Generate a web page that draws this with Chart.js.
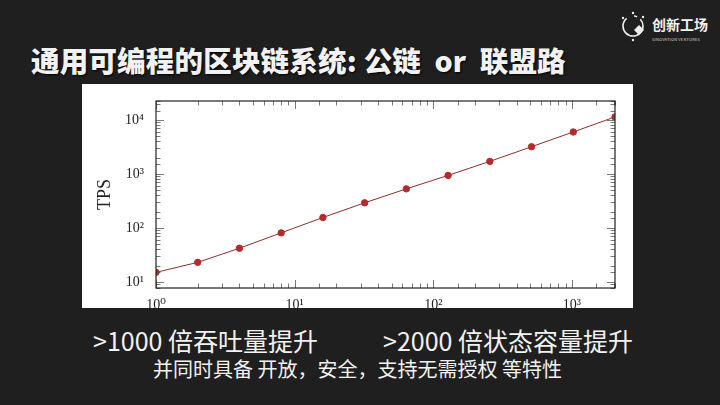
<!DOCTYPE html>
<html>
<head>
<meta charset="utf-8">
<script src="https://cdn.jsdelivr.net/npm/chart.js@4"></script>
<style>
  html, body { margin: 0; padding: 0; }
  body { width: 720px; height: 405px; background: #1f1f1f; position: relative; overflow: hidden;
         font-family: "Noto Sans CJK SC", "Noto Sans", sans-serif; color: #f2f2f2; }
  .title { position: absolute; left: 31px; top: 39px; font-size: 28.5px; font-weight: 900; white-space: pre;
           text-shadow: 1px 1px 2px #000; letter-spacing: 0.2px; }
  .panel { position: absolute; left: 82px; top: 84px; width: 551px; height: 224px; background: #fff; }
  .line1 { position: absolute; top: 322px; font-size: 25px; white-space: pre; }
  .line2 { position: absolute; left: 153px; top: 354px; font-size: 20px; white-space: pre; }
  .logo { position: absolute; left: 620px; top: 10px; width: 90px; height: 36px; }
  .logo .cn { position: absolute; left: 32px; top: 4px; font-size: 14px; font-weight: 700; }
  .logo .en { position: absolute; left: 32px; top: 26px; font-size: 4px; letter-spacing: 0.2px; color: #ddd; white-space: nowrap; }
</style>
</head>
<body>
<div class="title">通用可编程的区块链系统: 公链  or  联盟路</div>
<div class="logo">
  <svg width="30" height="34" viewBox="0 0 30 34">
    <circle cx="13" cy="16" r="10" fill="none" stroke="#eee" stroke-width="1.6" stroke-dasharray="40 8 3 4"/>
    <circle cx="3" cy="8" r="1.2" fill="#eee"/>
    <circle cx="13" cy="3" r="1.2" fill="#eee"/>
    <circle cx="23" cy="7" r="1.2" fill="#eee"/>
    <path d="M14 20 l5 -5 l5 5 l-5 5 z" fill="#eee"/>
    <circle cx="13" cy="30" r="1.2" fill="#eee"/>
  </svg>
  <div class="cn">创新工场</div>
  <div class="en">SINOVATION VENTURES</div>
</div>
<div class="panel"><canvas id="tps-chart" width="551" height="224"></canvas></div>
<div class="line1" style="left:93px">&gt;1000 倍吞吐量提升</div>
<div class="line1" style="left:383px">&gt;2000 倍状态容量提升</div>
<div class="line2">并同时具备 开放，安全，支持无需授权 等特性</div>

<script>
// data
const nodes = [1, 2, 4, 8, 16, 32, 64, 128, 256, 512, 1024, 2048];
const tps = [15, 23, 42, 81, 156, 292, 530, 940, 1710, 3200, 6000, 11400];
const sup = { 0: '⁰', 1: '¹', 2: '²', 3: '³', 4: '⁴' };

const isDecade = v => Math.abs(Math.log10(v) - Math.round(Math.log10(v))) < 1e-9;
const powLabel = v => isDecade(v) ? '10' + sup[Math.round(Math.log10(v))] : '';

// pgfplots style: box around the plot and ticks pointing inward on all sides
const boxTicks = {
  id: 'boxTicks',
  afterDraw(chart) {
    const { ctx, chartArea: a, scales } = chart;
    ctx.save();
    ctx.strokeStyle = '#555';
    ctx.lineWidth = 0.8;
    ctx.beginPath();
    scales.x.ticks.forEach(t => {
      if (t.value < scales.x.min || t.value > scales.x.max) return;
      const px = Math.round(scales.x.getPixelForValue(t.value)) + 0.5;
      const len = isDecade(t.value) ? 8 : 4.5;
      ctx.moveTo(px, a.bottom); ctx.lineTo(px, a.bottom - len);
      ctx.moveTo(px, a.top); ctx.lineTo(px, a.top + len);
    });
    scales.y.ticks.forEach(t => {
      if (t.value < scales.y.min || t.value > scales.y.max) return;
      const py = Math.round(scales.y.getPixelForValue(t.value)) + 0.5;
      const len = isDecade(t.value) ? 8 : 4.5;
      ctx.moveTo(a.left, py); ctx.lineTo(a.left + len, py);
      ctx.moveTo(a.right, py); ctx.lineTo(a.right - len, py);
    });
    ctx.stroke();
    ctx.strokeStyle = '#222';
    ctx.lineWidth = 1.2;
    ctx.strokeRect(a.left, a.top, a.right - a.left, a.bottom - a.top);
    ctx.restore();
  }
};

const ctxTps = document.getElementById('tps-chart').getContext('2d');
new Chart(ctxTps, {
  type: 'line',
  data: {
    datasets: [{
      label: 'TPS',
      data: nodes.map((n, i) => ({ x: n, y: tps[i] })),
      borderColor: '#8a2e2e',
      borderWidth: 1,
      pointBackgroundColor: '#b52a2c',
      pointBorderColor: '#b52a2c',
      pointRadius: 3.2,
      tension: 0
    }]
  },
  options: {
    responsive: false,
    animation: false,
    layout: { padding: { top: 17, right: 18, left: 0, bottom: 0 } },
    plugins: { legend: { display: false }, tooltip: { enabled: false } },
    scales: {
      x: {
        type: 'logarithmic',
        min: 1,
        max: 2048,
        grid: { display: false },
        border: { display: false },
        afterFit: s => { s.height = 20; },
        ticks: {
          autoSkip: false, maxRotation: 0, padding: 1,
          color: '#222', font: { family: 'Liberation Serif, DejaVu Serif, serif', size: 14 },
          callback: v => powLabel(v)
        }
      },
      y: {
        type: 'logarithmic',
        min: 7.7,
        max: 22500,
        grid: { display: false },
        border: { display: false },
        afterFit: s => { s.width = 74; },
        title: { display: true, text: 'TPS', color: '#222', padding: { top: 12, bottom: 0 },
                 font: { family: 'Liberation Serif, DejaVu Serif, serif', size: 18 } },
        ticks: {
          autoSkip: false, padding: 4,
          color: '#222', font: { family: 'Liberation Serif, DejaVu Serif, serif', size: 14 },
          callback: v => powLabel(v)
        }
      }
    }
  },
  plugins: [boxTicks]
});
</script>
</body>
</html>
